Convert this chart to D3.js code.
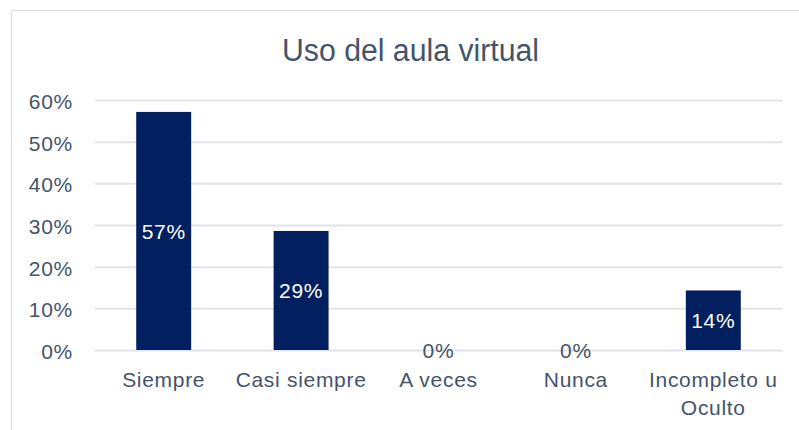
<!DOCTYPE html>
<html><head><meta charset="utf-8">
<script src="https://cdn.jsdelivr.net/npm/d3@7"></script>
<style>body{margin:0;background:#fff}svg{display:block}</style>
</head><body><svg id="c" width="799" height="430"></svg>
<script>
const title = "Uso del aula virtual";
const categories = ["Siempre", "Casi siempre", "A veces", "Nunca", "Incompleto u\nOculto"];
const values = [0.5714, 0.2857, 0, 0, 0.1429];
const labels = ["57%", "29%", "0%", "0%", "14%"];
const yTicks = [0, 0.1, 0.2, 0.3, 0.4, 0.5, 0.6];

const svg = d3.select("#c");
const font = "'Liberation Sans', Arial, sans-serif";
const textCol = "#44546A";
const fs = 21, ls = "0.7px";
svg.append("rect").attr("x", 11.5).attr("y", 10.5).attr("width", 820).attr("height", 450)
  .attr("fill", "#fff").attr("stroke", "#d9dee5").attr("stroke-width", 1);

const m = {l: 95, r: 782, t: 100, b: 350};
const x = d3.scaleBand().domain(categories).range([m.l, m.r]).paddingInner(0.6).paddingOuter(0.3);
const y = d3.scaleLinear().domain([0, 0.6]).range([m.b, m.t]);

svg.append("text").attr("x", 410.5).attr("y", 61).attr("text-anchor", "middle")
  .attr("font-family", font).attr("font-size", 31).attr("fill", textCol)
  .attr("textLength", 257).attr("lengthAdjust", "spacingAndGlyphs").text(title);

const ya = d3.axisLeft(y).tickValues(yTicks).tickFormat(d3.format(".0%")).tickSize(-(m.r - m.l)).tickPadding(22);
const g = svg.append("g").attr("transform", `translate(${m.l},0)`).call(ya);
g.select(".domain").remove();
g.selectAll(".tick line").attr("stroke", "#e1e5eb").attr("stroke-width", 2);
g.selectAll(".tick text").attr("font-family", font).attr("font-size", fs).attr("letter-spacing", ls)
  .attr("fill", textCol).attr("dy", "0.4em");

svg.selectAll("rect.bar").data(values).join("rect").attr("class", "bar")
  .attr("x", (d, i) => x(categories[i])).attr("width", x.bandwidth())
  .attr("y", d => y(d)).attr("height", d => y(0) - y(d)).attr("fill", "#02205f");

svg.selectAll("text.lbl").data(values).join("text").attr("class", "lbl")
  .attr("x", (d, i) => x(categories[i]) + x.bandwidth() / 2)
  .attr("y", d => (y(d) + y(0)) / 2).attr("dy", "0.38em").attr("text-anchor", "middle")
  .attr("font-family", font).attr("font-size", fs).attr("letter-spacing", ls)
  .attr("fill", d => d > 0 ? "#ffffff" : textCol)
  .text((d, i) => labels[i]);

const xa = svg.append("g");
categories.forEach(c => {
  const t = xa.append("text").attr("x", x(c) + x.bandwidth() / 2).attr("y", 387)
    .attr("text-anchor", "middle").attr("font-family", font).attr("font-size", fs)
    .attr("letter-spacing", ls).attr("fill", textCol);
  c.split("\n").forEach((line, k) => {
    t.append("tspan").attr("x", x(c) + x.bandwidth() / 2).attr("dy", k === 0 ? 0 : 28).text(line);
  });
});
</script></body></html>
